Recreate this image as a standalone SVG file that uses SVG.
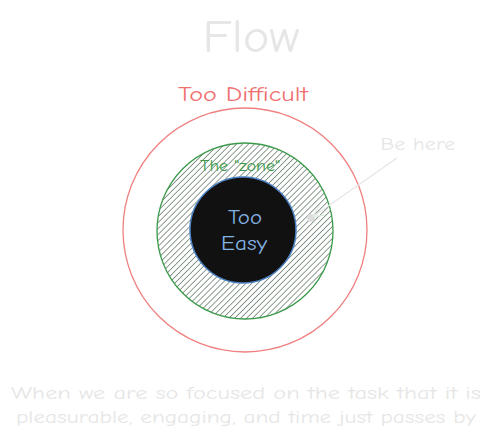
<svg xmlns="http://www.w3.org/2000/svg" width="493" height="441" viewBox="0 0 493 441">
<style>
text{font-family:"Comic Neue","Liberation Sans","DejaVu Sans",sans-serif;text-anchor:middle}
.faint{fill:#e6e6e6}
</style>
<defs>
<pattern id="hatch" patternUnits="userSpaceOnUse" width="4.2" height="4.2" patternTransform="rotate(45)">
<line x1="0" y1="0" x2="0" y2="4.2" stroke="#2f4d38" stroke-width="1.1"/>
</pattern>
<marker id="ah" viewBox="0 0 10 10" refX="9" refY="5" markerWidth="12" markerHeight="12" orient="auto" markerUnits="userSpaceOnUse">
<path d="M0,0 L10,5 L0,10" fill="none" stroke="#dcebdc" stroke-width="1"/>
</marker>
</defs>
<rect width="493" height="441" fill="#fff"/>
<text x="251" y="52" font-size="46" class="faint" textLength="97" lengthAdjust="spacingAndGlyphs">Flow</text>
<g id="difficult">
<circle cx="245" cy="230" r="122" fill="none" stroke="#f08080" stroke-width="1.3"/>
<text x="243" y="101" font-size="20" fill="#f07070" textLength="130" lengthAdjust="spacingAndGlyphs">Too Difficult</text>
</g>
<g id="zone">
<circle cx="245" cy="231" r="88" fill="url(#hatch)" stroke="#3a9a4a" stroke-width="1.3"/>
<text x="240" y="171" font-size="16" fill="#3a9a4a" textLength="80" lengthAdjust="spacingAndGlyphs">The "zone"</text>
</g>
<g id="easy">
<circle cx="243" cy="230" r="53" fill="#111" stroke="#4a7fc0" stroke-width="1.5"/>
<text x="245" y="224" font-size="20" fill="#84b4e4" textLength="34" lengthAdjust="spacingAndGlyphs">Too</text>
<text x="244" y="250" font-size="20" fill="#84b4e4" textLength="46" lengthAdjust="spacingAndGlyphs">Easy</text>
</g>
<g id="here">
<text x="418" y="150" font-size="18" class="faint" textLength="75" lengthAdjust="spacingAndGlyphs">Be here</text>
<circle cx="311" cy="218" r="4" fill="#ddd"/>
</g>
<g id="connectors">
<line x1="397" y1="158" x2="314" y2="216" stroke="#e6e6e6" stroke-width="1.2" marker-end="url(#ah)"/>
</g>
<text x="246" y="399" font-size="19" class="faint" textLength="470" lengthAdjust="spacingAndGlyphs">When we are so focused on the task that it is</text>
<text x="246" y="423" font-size="19" class="faint" textLength="460" lengthAdjust="spacingAndGlyphs">pleasurable, engaging, and time just passes by</text>
</svg>
